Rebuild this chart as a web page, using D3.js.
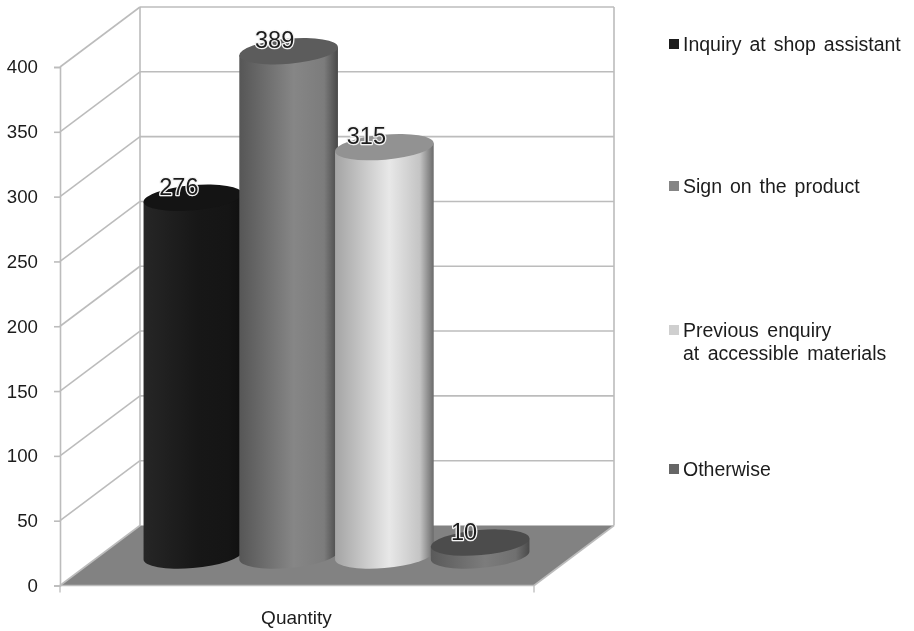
<!DOCTYPE html>
<html><head><meta charset="utf-8">
<script src="https://cdnjs.cloudflare.com/ajax/libs/d3/7.8.5/d3.min.js"></script>
<style>
html,body{margin:0;padding:0;background:#fff}
svg{display:block;filter:blur(0.6px)}
text{font-family:"Liberation Sans",Arial,sans-serif;fill:#1c1c1c}
</style></head><body>
<svg id="c" width="914" height="631"></svg>
<script>
const seriesNames = ["Inquiry at shop assistant","Sign on the product","Previous enquiry|at accessible materials","Otherwise"];
const seriesValues = [276,389,315,10];
const tickValues = [0,50,100,150,200,250,300,350,400];
const categoryLabel = "Quantity";
const palette = [
 {edge:"#262626",mid:"#171717",late:"#151515",end:"#101010",top:"#141414",key:"#1c1c1c"},
 {edge:"#565656",mid:"#868686",late:"#7c7c7c",end:"#484848",top:"#5c5c5c",key:"#858585"},
 {edge:"#a4a4a4",mid:"#e8e8e8",late:"#c4c4c4",end:"#6a6a6a",top:"#929292",key:"#cfcfcf"},
 {edge:"#5a5a5a",mid:"#7c7c7c",late:"#707070",end:"#4a4a4a",top:"#4c4c4c",key:"#666666"}
];
const svg = d3.select("#c");
const y = d3.scaleLinear().domain([0,400]).range([585.5,67]);
const x = d3.scaleBand().domain(seriesNames).range([145,528]);
const left=60,right=534,dx=80,dy=60,line="#bcbcbc";
const g = svg.append("g");
g.append("polygon").attr("points",[[left,y(0)],[right,y(0)],[right+dx,y(0)-dy],[left+dx,y(0)-dy]].join(" ")).attr("fill","#828282");
tickValues.forEach(v=>{
  if(v>0){
    g.append("line").attr("x1",left).attr("y1",y(v)).attr("x2",left+dx).attr("y2",y(v)-dy);
    g.append("line").attr("x1",left+dx).attr("y1",y(v)-dy).attr("x2",right+dx).attr("y2",y(v)-dy);
  }
});
g.append("line").attr("x1",left+dx).attr("y1",y(400)-dy).attr("x2",left+dx).attr("y2",y(0)-dy);
g.append("line").attr("x1",right+dx).attr("y1",y(400)-dy).attr("x2",right+dx).attr("y2",y(0)-dy);
g.append("line").attr("x1",left).attr("y1",y(0)).attr("x2",right).attr("y2",y(0));
g.append("line").attr("x1",right).attr("y1",y(0)).attr("x2",right+dx).attr("y2",y(0)-dy);
g.append("line").attr("x1",left).attr("y1",y(0)).attr("x2",left+dx).attr("y2",y(0)-dy);
g.selectAll("line").attr("stroke",line).attr("stroke-width",1.6);
const ax = svg.append("g").attr("transform",`translate(${left},0)`).call(d3.axisLeft(y).tickValues(tickValues).tickSize(6).tickPadding(16));
ax.selectAll("path,line").attr("stroke",line).attr("stroke-width",1.6);
ax.selectAll("text").attr("font-size",18.7).attr("fill","#1c1c1c");
[left,right].forEach(px=>svg.append("line").attr("x1",px).attr("x2",px).attr("y1",y(0)).attr("y2",y(0)+7).attr("stroke",line).attr("stroke-width",1.3));
svg.append("text").attr("x",296.5).attr("y",624).attr("text-anchor","middle").attr("font-size",19).text(categoryLabel);
const defs = svg.append("defs");
const rx=49.5, ry=12.5, phi=-5*Math.PI/180;
const ex=Math.sqrt(rx*rx*Math.cos(phi)**2+ry*ry*Math.sin(phi)**2);
const ey=(rx*rx-ry*ry)*Math.sin(phi)*Math.cos(phi)/ex;
const depth=dy/2;
seriesNames.forEach((s,i)=>{
  const p=palette[i], id="g"+i;
  const gr=defs.append("linearGradient").attr("id",id);
  [[0,p.edge],[0.55,p.mid],[0.86,p.late],[1,p.end]].forEach(([o,c])=>gr.append("stop").attr("offset",o).attr("stop-color",c));
  const cx=x(s)+x.bandwidth()/2, yb=y(0)-depth, yt=y(seriesValues[i])-depth;
  const rot=phi*180/Math.PI;
  svg.append("path").attr("fill",`url(#${id})`)
    .attr("d",`M${cx-ex},${yt-ey}L${cx-ex},${yb-ey}A${rx},${ry} ${rot} 0 0 ${cx+ex},${yb+ey}L${cx+ex},${yt+ey}Z`);
  svg.append("ellipse").attr("cx",cx).attr("cy",yt).attr("rx",rx).attr("ry",ry)
    .attr("transform",`rotate(${rot} ${cx} ${yt})`).attr("fill",p.top);
});
const labelShift=[-14,-14,-18,-16];
seriesNames.forEach((s,i)=>{
  const cx=x(s)+x.bandwidth()/2, yt=y(seriesValues[i])-depth;
  svg.append("text").attr("x",cx+labelShift[i]).attr("y",yt-3).attr("text-anchor","middle").attr("font-size",23.5)
    .attr("stroke","#f4f4f4").attr("stroke-width",2.6).attr("paint-order","stroke").attr("stroke-linejoin","round")
    .text(seriesValues[i]);
});
const legendY=[45,187,331,470];
seriesNames.forEach((s,i)=>{
  const ly=legendY[i];
  svg.append("rect").attr("x",669).attr("y",ly-6).attr("width",10).attr("height",10).attr("fill",palette[i].key);
  s.split("|").forEach((t,j)=>{
    svg.append("text").attr("x",683).attr("y",ly+6+j*23).attr("font-size",19.5).attr("word-spacing",i===2?"3px":"2.5px").text(t);
  });
});
</script></body></html>
